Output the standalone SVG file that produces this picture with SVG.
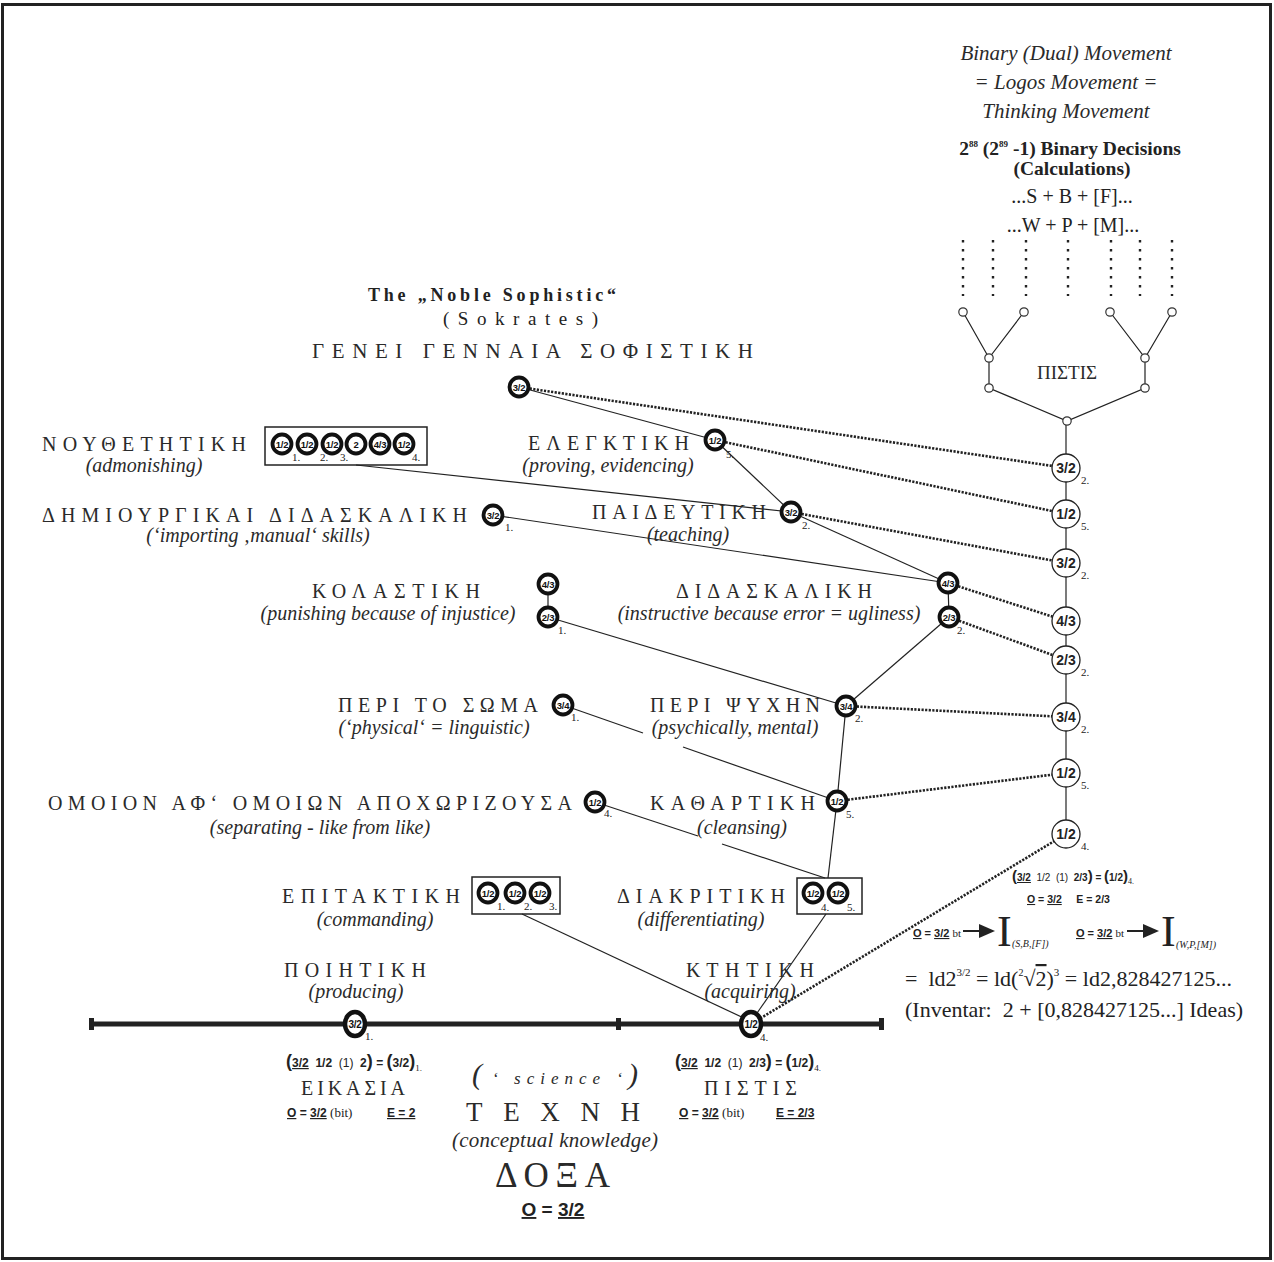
<svg xmlns="http://www.w3.org/2000/svg" width="1274" height="1262" viewBox="0 0 1274 1262">
<defs>
<style>
.g{font-family:"Liberation Serif",serif;font-size:20px;fill:#2a2a2a}
.i{font-family:"Liberation Serif",serif;font-style:italic;font-size:20px;fill:#2a2a2a}
.s{font-family:"Liberation Serif",serif;fill:#222}
.n{fill:#fff;stroke:#111;stroke-width:3.8}
.nt{font-family:"Liberation Sans",sans-serif;font-weight:bold;font-size:9.5px;letter-spacing:-0.3px;text-anchor:middle;fill:#111}
.rc{fill:#fff;stroke:#222;stroke-width:1.3}
.rt{font-family:"Liberation Sans",sans-serif;font-weight:bold;font-size:14px;text-anchor:middle;fill:#222}
.lb{font-family:"Liberation Serif",serif;font-size:11px;fill:#222}
.ln{stroke:#222;stroke-width:1.2;fill:none}
.dt{stroke:#222;stroke-width:2.6;stroke-dasharray:2.2 1.4;fill:none}
.bx{fill:none;stroke:#222;stroke-width:1.5}
.tc{fill:#fff;stroke:#333;stroke-width:1.2}
.f{font-family:"Liberation Sans",sans-serif;font-weight:bold;font-size:12px;fill:#222}
.u{text-decoration:underline}
</style>
</defs>
<rect x="2.5" y="4.5" width="1268" height="1254" fill="#fff" stroke="#222" stroke-width="3"/>

<!-- top right texts -->
<g id="title-right">
<text class="i" x="1066" y="60" text-anchor="middle" style="font-size:21px">Binary (Dual) Movement</text>
<text class="i" x="1066" y="89" text-anchor="middle" style="font-size:21px">= Logos Movement =</text>
<text class="i" x="1066" y="118" text-anchor="middle" style="font-size:21px">Thinking Movement</text>
<text class="s" x="1070" y="155" text-anchor="middle" font-size="19.5" font-weight="bold">2<tspan font-size="9" dy="-8">88</tspan><tspan dy="8"> (2</tspan><tspan font-size="9" dy="-8">89</tspan><tspan dy="8"> -1) Binary Decisions</tspan></text>
<text class="s" x="1072" y="175" text-anchor="middle" font-size="19.5" font-weight="bold">(Calculations)</text>
<text class="s" x="1072" y="203" text-anchor="middle" font-size="20">...S + B + [F]...</text>
<text class="s" x="1073" y="232" text-anchor="middle" font-size="20">...W + P + [M]...</text>
</g>

<!-- binary tree -->
<g id="tree">
<g stroke="#222" stroke-width="2.4" stroke-dasharray="2.4 6.6">
<line x1="963" y1="240" x2="963" y2="296"/>
<line x1="993" y1="240" x2="993" y2="296"/>
<line x1="1026" y1="240" x2="1026" y2="296"/>
<line x1="1068" y1="240" x2="1068" y2="296"/>
<line x1="1111" y1="240" x2="1111" y2="296"/>
<line x1="1140" y1="240" x2="1140" y2="296"/>
<line x1="1172" y1="240" x2="1172" y2="296"/>
</g>
<g class="ln">
<path d="M963,312 L989,358 L1024,312 M989,358 V388 L1067,421 L1145,388 V358 L1110,312 M1145,358 L1172,312"/>
<line x1="1066" y1="421" x2="1066" y2="834"/>
</g>
<g>
<circle class="tc" cx="963" cy="312" r="4.2"/>
<circle class="tc" cx="1024" cy="312" r="4.2"/>
<circle class="tc" cx="1110" cy="312" r="4.2"/>
<circle class="tc" cx="1172" cy="312" r="4.2"/>
<circle class="tc" cx="989" cy="358" r="4.2"/>
<circle class="tc" cx="1145" cy="358" r="4.2"/>
<circle class="tc" cx="989" cy="388" r="4.2"/>
<circle class="tc" cx="1145" cy="388" r="4.2"/>
<circle class="tc" cx="1067" cy="421" r="4.2"/>
</g>
<text class="g" x="1067" y="379" text-anchor="middle" style="font-size:19px">ΠΙΣΤΙΣ</text>
</g>

<!-- connectors -->
<g id="connectors">
<g class="ln">
<line x1="519" y1="387" x2="715" y2="440"/>
<line x1="715" y1="440" x2="791" y2="512"/>
<line x1="356" y1="465" x2="791" y2="512"/>
<line x1="493" y1="515" x2="948" y2="583"/>
<line x1="791" y1="512" x2="948" y2="583"/>
<line x1="548" y1="584" x2="548" y2="617"/>
<line x1="948" y1="583" x2="949" y2="617"/>
<line x1="548" y1="617" x2="846" y2="706"/>
<line x1="949" y1="617" x2="846" y2="706"/>
<line x1="563" y1="705" x2="643" y2="733"/>
<line x1="683" y1="747" x2="837" y2="801"/>
<line x1="846" y1="706" x2="837" y2="801"/>
<line x1="837" y1="801" x2="828" y2="878"/>
<line x1="595" y1="802" x2="698" y2="836"/>
<line x1="722" y1="844" x2="825" y2="878"/>
<line x1="826" y1="914" x2="755" y2="1016"/>
<line x1="522" y1="914" x2="748" y2="1020"/>
</g>
<g class="dt">
<line x1="519" y1="387" x2="1066" y2="468"/>
<line x1="715" y1="440" x2="1066" y2="514"/>
<line x1="791" y1="512" x2="1066" y2="563"/>
<line x1="948" y1="583" x2="1066" y2="621"/>
<line x1="949" y1="617" x2="1066" y2="660"/>
<line x1="846" y1="706" x2="1066" y2="717"/>
<line x1="837" y1="801" x2="1066" y2="773"/>
<line x1="751" y1="1024" x2="1066" y2="834"/>
</g>
</g>

<!-- right column nodes -->
<g id="r1"><circle class="rc" cx="1066" cy="468" r="14"/><text class="rt" x="1066" y="473">3/2</text><text class="lb" x="1081" y="484">2.</text></g>
<g id="r2"><circle class="rc" cx="1066" cy="514" r="14"/><text class="rt" x="1066" y="519">1/2</text><text class="lb" x="1081" y="530">5.</text></g>
<g id="r3"><circle class="rc" cx="1066" cy="563" r="14"/><text class="rt" x="1066" y="568">3/2</text><text class="lb" x="1081" y="579">2.</text></g>
<g id="r4"><circle class="rc" cx="1066" cy="621" r="14"/><text class="rt" x="1066" y="626">4/3</text></g>
<g id="r5"><circle class="rc" cx="1066" cy="660" r="14"/><text class="rt" x="1066" y="665">2/3</text><text class="lb" x="1081" y="676">2.</text></g>
<g id="r6"><circle class="rc" cx="1066" cy="717" r="14"/><text class="rt" x="1066" y="722">3/4</text><text class="lb" x="1081" y="733">2.</text></g>
<g id="r7"><circle class="rc" cx="1066" cy="773" r="14"/><text class="rt" x="1066" y="778">1/2</text><text class="lb" x="1081" y="789">5.</text></g>
<g id="r8"><circle class="rc" cx="1066" cy="834" r="14"/><text class="rt" x="1066" y="839">1/2</text><text class="lb" x="1081" y="850">4.</text></g>

<!-- noble sophistic -->
<g id="noble">
<text class="s" x="368" y="301" font-size="18" font-weight="bold" textLength="248" lengthAdjust="spacing">The „Noble Sophistic“</text>
<text class="s" x="443" y="325" font-size="19" textLength="155" lengthAdjust="spacing">(Sokrates)</text>
<text class="g" x="312" y="358" style="font-size:21px" textLength="441" lengthAdjust="spacing">ΓΕΝΕΙ ΓΕΝΝΑΙΑ ΣΟΦΙΣΤΙΚΗ</text>
<circle class="n" cx="519" cy="387" r="9.5"/><text class="nt" x="519" y="390.5">3/2</text>
</g>

<g id="nouthetetike">
<text class="g" x="42" y="451" textLength="204" lengthAdjust="spacing">ΝΟΥΘΕΤΗΤΙΚΗ</text>
<text class="i" x="144" y="472" text-anchor="middle">(admonishing)</text>
<rect class="bx" x="265" y="427" width="162" height="38"/>
<circle class="n" cx="282" cy="444" r="9.5"/><text class="nt" x="282" y="447.5">1/2</text>
<circle class="n" cx="307" cy="444" r="9.5"/><text class="nt" x="307" y="447.5">1/2</text>
<circle class="n" cx="332" cy="444" r="9.5"/><text class="nt" x="332" y="447.5">1/2</text>
<circle class="n" cx="356" cy="444" r="9.5"/><text class="nt" x="356" y="447.5">2</text>
<circle class="n" cx="380" cy="444" r="9.5"/><text class="nt" x="380" y="447.5">4/3</text>
<circle class="n" cx="404" cy="444" r="9.5"/><text class="nt" x="404" y="447.5">1/2</text>
<text class="lb" x="292" y="461">1.</text><text class="lb" x="320" y="461">2.</text><text class="lb" x="340" y="461">3.</text><text class="lb" x="412" y="461">4.</text>
</g>

<g id="elegktike">
<text class="g" x="528" y="450" textLength="161" lengthAdjust="spacing">ΕΛΕΓΚΤΙΚΗ</text>
<text class="i" x="608" y="472" text-anchor="middle">(proving, evidencing)</text>
<circle class="n" cx="715" cy="440" r="9.5"/><text class="nt" x="715" y="443.5">1/2</text>
<text class="lb" x="726" y="458">5.</text>
</g>

<g id="demiourgikai">
<text class="g" x="42" y="522" textLength="425" lengthAdjust="spacing">ΔΗΜΙΟΥΡΓΙΚΑΙ  ΔΙΔΑΣΚΑΛΙΚΗ</text>
<text class="i" x="258" y="542" text-anchor="middle">(‘importing ‚manual‘ skills)</text>
<circle class="n" cx="493" cy="515" r="9.5"/><text class="nt" x="493" y="518.5">3/2</text>
<text class="lb" x="505" y="531">1.</text>
</g>

<g id="paideutike">
<text class="g" x="592" y="519" textLength="174" lengthAdjust="spacing">ΠΑΙΔΕΥΤΙΚΗ</text>
<text class="i" x="688" y="541" text-anchor="middle">(teaching)</text>
<circle class="n" cx="791" cy="512" r="9.5"/><text class="nt" x="791" y="515.5">3/2</text>
<text class="lb" x="802" y="529">2.</text>
</g>

<g id="kolastike">
<text class="g" x="312" y="598" textLength="168" lengthAdjust="spacing">ΚΟΛΑΣΤΙΚΗ</text>
<text class="i" x="388" y="620" text-anchor="middle">(punishing because of  injustice)</text>
<circle class="n" cx="548" cy="584" r="9.5"/><text class="nt" x="548" y="587.5">4/3</text>
<circle class="n" cx="548" cy="617" r="9.5"/><text class="nt" x="548" y="620.5">2/3</text>
<text class="lb" x="558" y="634">1.</text>
</g>

<g id="didaskalike">
<text class="g" x="676" y="598" textLength="196" lengthAdjust="spacing">ΔΙΔΑΣΚΑΛΙΚΗ</text>
<text class="i" x="769" y="620" text-anchor="middle">(instructive because error = ugliness)</text>
<circle class="n" cx="948" cy="583" r="9.5"/><text class="nt" x="948" y="586.5">4/3</text>
<circle class="n" cx="949" cy="617" r="9.5"/><text class="nt" x="949" y="620.5">2/3</text>
<text class="lb" x="957" y="634">2.</text>
</g>

<g id="peri-soma">
<text class="g" x="338" y="712" textLength="200" lengthAdjust="spacing">ΠΕΡΙ ΤΟ ΣΩΜΑ</text>
<text class="i" x="434" y="734" text-anchor="middle">(‘physical‘ = linguistic)</text>
<circle class="n" cx="563" cy="705" r="9.5"/><text class="nt" x="563" y="708.5">3/4</text>
<text class="lb" x="571" y="721">1.</text>
</g>

<g id="peri-psychen">
<text class="g" x="650" y="712" textLength="170" lengthAdjust="spacing">ΠΕΡΙ ΨΥΧΗΝ</text>
<text class="i" x="735" y="734" text-anchor="middle">(psychically, mental)</text>
<circle class="n" cx="846" cy="706" r="9.5"/><text class="nt" x="846" y="709.5">3/4</text>
<text class="lb" x="855" y="722">2.</text>
</g>

<g id="homoion">
<text class="g" x="48" y="810" textLength="524" lengthAdjust="spacing">ΟΜΟΙΟΝ ΑΦ‘ ΟΜΟΙΩΝ ΑΠΟΧΩΡΙΖΟΥΣΑ</text>
<text class="i" x="320" y="834" text-anchor="middle">(separating - like from like)</text>
<circle class="n" cx="595" cy="802" r="9.5"/><text class="nt" x="595" y="805.5">1/2</text>
<text class="lb" x="604" y="817">4.</text>
</g>

<g id="kathartike">
<text class="g" x="650" y="810" textLength="165" lengthAdjust="spacing">ΚΑΘΑΡΤΙΚΗ</text>
<text class="i" x="742" y="834" text-anchor="middle">(cleansing)</text>
<circle class="n" cx="837" cy="801" r="9.5"/><text class="nt" x="837" y="804.5">1/2</text>
<text class="lb" x="846" y="818">5.</text>
</g>

<g id="epitaktike">
<text class="g" x="282" y="903" textLength="178" lengthAdjust="spacing">ΕΠΙΤΑΚΤΙΚΗ</text>
<text class="i" x="375" y="926" text-anchor="middle">(commanding)</text>
<rect class="bx" x="472" y="877" width="88" height="37"/>
<circle class="n" cx="488" cy="893" r="9.5"/><text class="nt" x="488" y="896.5">1/2</text>
<circle class="n" cx="515" cy="893" r="9.5"/><text class="nt" x="515" y="896.5">1/2</text>
<circle class="n" cx="540" cy="893" r="9.5"/><text class="nt" x="540" y="896.5">1/2</text>
<text class="lb" x="497" y="910">1.</text><text class="lb" x="524" y="910">2.</text><text class="lb" x="549" y="910">3.</text>
</g>

<g id="diakritike">
<text class="g" x="617" y="903" textLength="168" lengthAdjust="spacing">ΔΙΑΚΡΙΤΙΚΗ</text>
<text class="i" x="701" y="926" text-anchor="middle">(differentiating)</text>
<rect class="bx" x="797" y="878" width="65" height="36"/>
<circle class="n" cx="813" cy="893" r="9.5"/><text class="nt" x="813" y="896.5">1/2</text>
<circle class="n" cx="838" cy="893" r="9.5"/><text class="nt" x="838" y="896.5">1/2</text>
<text class="lb" x="821" y="911">4.</text><text class="lb" x="847" y="911">5.</text>
</g>

<g id="poietike">
<text class="g" x="284" y="977" textLength="142" lengthAdjust="spacing">ΠΟΙΗΤΙΚΗ</text>
<text class="i" x="356" y="998" text-anchor="middle">(producing)</text>
</g>
<g id="ktetike">
<text class="g" x="686" y="977" textLength="128" lengthAdjust="spacing">ΚΤΗΤΙΚΗ</text>
<text class="i" x="750" y="998" text-anchor="middle">(acquiring)</text>
</g>

<!-- axis -->
<g id="axis">
<line x1="92" y1="1024" x2="881" y2="1024" stroke="#222" stroke-width="5"/>
<rect x="89" y="1018" width="5" height="12" fill="#222"/>
<rect x="616" y="1018" width="5" height="12" fill="#222"/>
<rect x="879" y="1018" width="5" height="12" fill="#222"/>
</g>
<g id="eikasia-node">
<ellipse class="n" cx="355" cy="1024" rx="10" ry="12" style="stroke-width:4.4px"/><text class="nt" x="355" y="1028" style="font-size:10px">3/2</text>
<text class="lb" x="365" y="1040">1.</text>
</g>
<g id="pistis-node">
<ellipse class="n" cx="751" cy="1024" rx="10" ry="12" style="stroke-width:4.4px"/><text class="nt" x="751" y="1028" style="font-size:10px">1/2</text>
<text class="lb" x="760" y="1041">4.</text>
</g>

<!-- bottom left -->
<g id="eikasia">
<text class="f" x="354" y="1067" text-anchor="middle" xml:space="preserve"><tspan font-size="18">(</tspan><tspan class="u">3/2</tspan>  1/2  <tspan font-weight="normal">(1)</tspan>  2<tspan font-size="18">)</tspan> = <tspan font-size="18">(</tspan>3/2<tspan font-size="18">)</tspan><tspan class="s" font-weight="normal" font-size="9" dy="4">1.</tspan></text>
<text class="g" x="301" y="1095" textLength="104" lengthAdjust="spacing">ΕΙΚΑΣΙΑ</text>
<text class="f" x="287" y="1117"><tspan class="u">O</tspan> = <tspan class="u">3/2</tspan> <tspan class="s" font-weight="normal" font-size="13">(bit)</tspan></text>
<text class="f" x="387" y="1117"><tspan class="u">E = 2</tspan></text>
</g>

<!-- bottom center -->
<g id="techne">
<text class="i" x="555" y="1084" text-anchor="middle"><tspan font-size="30">(</tspan><tspan font-size="17" letter-spacing="6"> ‘ science ‘</tspan><tspan font-size="30">)</tspan></text>
<text class="g" x="466" y="1121" style="font-size:27px" textLength="174" lengthAdjust="spacing">ΤΕΧΝΗ</text>
<text class="i" x="555" y="1147" text-anchor="middle" style="font-size:21px" textLength="206" lengthAdjust="spacing">(conceptual knowledge)</text>
<text class="g" x="495" y="1187" style="font-size:35px" textLength="115" lengthAdjust="spacing">ΔΟΞΑ</text>
<text class="f" x="553" y="1216" text-anchor="middle" style="font-size:19px"><tspan class="u">O</tspan> = <tspan class="u">3/2</tspan></text>
</g>

<!-- bottom right of axis -->
<g id="pistis">
<text class="f" x="748" y="1067" text-anchor="middle" xml:space="preserve"><tspan font-size="18">(</tspan><tspan class="u">3/2</tspan>  1/2  <tspan font-weight="normal">(1)</tspan>  2/3<tspan font-size="18">)</tspan> = <tspan font-size="18">(</tspan>1/2<tspan font-size="18">)</tspan><tspan class="s" font-weight="normal" font-size="9" dy="4">4.</tspan></text>
<text class="g" x="704" y="1095" textLength="93" lengthAdjust="spacing">ΠΙΣΤΙΣ</text>
<text class="f" x="679" y="1117"><tspan class="u">O</tspan> = <tspan class="u">3/2</tspan> <tspan class="s" font-weight="normal" font-size="13">(bit)</tspan></text>
<text class="f" x="776" y="1117"><tspan class="u">E = 2/3</tspan></text>
</g>

<!-- right formulas -->
<g id="formulas">
<text class="f" x="1012" y="881" style="font-size:10px" xml:space="preserve"><tspan font-size="15">(</tspan><tspan class="u">3/2</tspan>  <tspan font-weight="normal">1/2</tspan>  <tspan font-weight="normal">(1)</tspan>  2/3<tspan font-size="15">)</tspan> = <tspan font-size="15">(</tspan>1/2<tspan font-size="15">)</tspan><tspan class="s" font-weight="normal" font-size="8" dy="3">4.</tspan></text>
<text class="f" x="1027" y="903" style="font-size:10.5px" xml:space="preserve"><tspan class="u">O</tspan> = <tspan class="u">3/2</tspan>     E = 2/3</text>
<text class="f" x="913" y="937" style="font-size:11px"><tspan class="u">O</tspan> = <tspan class="u">3/2</tspan> <tspan class="s" font-weight="normal">bt</tspan></text>
<path d="M963,931 H982" stroke="#222" stroke-width="2"/>
<path d="M979,924 L995,931 L979,938 Z" fill="#222"/>
<text class="s" x="997" y="946" font-size="44">I</text>
<text class="s" x="1012" y="947" font-size="10" font-style="italic">(S,B,[F])</text>
<text class="f" x="1076" y="937" style="font-size:11px"><tspan class="u">O</tspan> = <tspan class="u">3/2</tspan> <tspan class="s" font-weight="normal">bt</tspan></text>
<path d="M1127,931 H1146" stroke="#222" stroke-width="2"/>
<path d="M1143,924 L1159,931 L1143,938 Z" fill="#222"/>
<text class="s" x="1161" y="946" font-size="44">I</text>
<text class="s" x="1176" y="948" font-size="10" font-style="italic">(W,P,[M])</text>
<text class="s" x="905" y="986" font-size="22" xml:space="preserve">=  ld2<tspan font-size="11" dy="-10">3/2</tspan><tspan dy="10"> = ld(</tspan><tspan font-size="10" dy="-10">2</tspan><tspan dy="10">√</tspan><tspan text-decoration="overline">2</tspan>)<tspan font-size="11" dy="-10">3</tspan><tspan dy="10"> = ld2,828427125...</tspan></text>
<text class="s" x="905" y="1017" font-size="22" xml:space="preserve">(Inventar:  2 + [0,828427125...] Ideas)</text>
</g>
</svg>
